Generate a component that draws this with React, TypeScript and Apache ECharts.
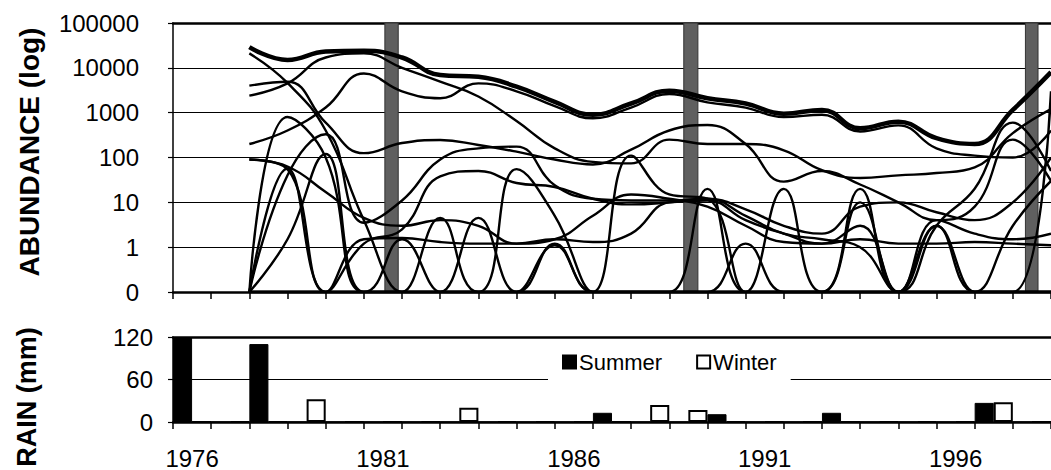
import React, { useEffect, useRef } from "react";
import * as echarts from "echarts";

// ---------- data ----------
const years = [1978, 1979, 1980, 1981, 1982, 1983, 1984, 1985, 1986, 1987, 1988, 1989, 1990, 1991, 1992, 1993, 1994, 1995, 1996, 1997, 1998, 1999];

// abundance series (0 = absent, drawn on the "0" line of the log axis)
const dominant = [29000, 15000, 23000, 24000, 17000, 6900, 6300, 3800, 1750, 900, 1600, 3100, 2100, 1600, 950, 1150, 450, 630, 270, 200, 1150, 8000];
const sp2 = [21000, 4600, 400, 4, 0, 4.5, 0, 0, 0, 0, 0, 0, 0, 0, 0, 0, 0, 0, 0, 0, 0, 0];
const sp3 = [4000, 4900, 600, 125, 210, 245, 190, 135, 90, 70, 150, 400, 530, 200, 29, 50, 25, 10, 4, 8, 250, 30];
const sp4 = [2400, 4500, 17000, 21000, 10000, 4900, 2300, 650, 160, 80, 74, 250, 200, 200, 145, 52, 35, 40, 45, 60, 350, 1200];
const sp5 = [200, 400, 1300, 7500, 3000, 2100, 4500, 3000, 1400, 750, 1300, 2600, 1700, 1300, 800, 900, 380, 520, 160, 110, 100, 400];
const sp6 = [90, 63, 17, 4.5, 3, 4, 3, 1.2, 1.5, 1.3, 2, 10, 11, 4, 2, 1.2, 1.5, 1.2, 1.2, 1.3, 1.2, 1.1];
const sp7 = [90, 55, 0, 1.5, 1.6, 1.3, 1.2, 1.2, 1.5, 5, 15, 12, 8, 3, 1.3, 1.2, 3, 0, 4, 2, 1.5, 2];
const sp8 = [0, 800, 100, 0, 0, 0, 0, 0, 1.2, 0, 0, 0, 0, 0, 0, 0, 0, 0, 0, 0, 0, 0];
const sp9 = [0, 57, 0, 1.2, 2.5, 38, 50, 27, 22, 12, 9, 10, 12, 5, 2, 1.5, 1, 0, 3, 0, 3, 30];
const sp10 = [0, 1.5, 120, 0, 0, 0, 0, 0, 0, 0, 0, 0, 0, 0, 0, 0, 0, 0, 0, 0, 0, 0];
const sp11 = [0, 40, 330, 3.5, 11, 90, 160, 175, 24, 12, 11, 11, 12, 7, 3, 2, 8, 10, 6, 4, 10, 100];
const sp12 = [0, 0, 0, 0, 0, 0, 0, 55, 5, 0, 110, 15, 12, 0, 20, 0, 0, 0, 0, 0, 0, 0];
const sp13 = [0, 0, 0, 0, 1.5, 0, 4.5, 0, 1.1, 0, 0, 0, 20, 0, 0, 0, 20, 0, 0, 0, 0, 0];
const sp14 = [0, 0, 0, 0, 0, 0, 0, 0, 0, 0, 0, 0, 0, 1.2, 0, 0, 10, 0, 3, 0, 0, 3000];
const sp15 = [0, 0, 0, 0, 0, 0, 0, 0, 0, 0, 0, 0, 0, 0, 0, 0, 0, 0, 3, 20, 600, 50];

const thinSeries = [sp2, sp3, sp4, sp5, sp6, sp7, sp8, sp9, sp10, sp11, sp12, sp13, sp14, sp15];

// drought periods (hatched bars)
const droughtStart = [1981.55, 1989.38, 1998.33];
const droughtEnd = [1981.9, 1989.75, 1998.66];

// rain panel
const rainYears = ["1976", "1977", "1978", "1979", "1980", "1981", "1982", "1983", "1984", "1985", "1986", "1987", "1988", "1989", "1990", "1991", "1992", "1993", "1994", "1995", "1996", "1997", "1998"];
const summerRain = [120, 0, 110, 0, 0, 0, 0, 0, 0, 0, 0, 13, 0, 0, 11, 0, 0, 13, 0, 0, 0, 27, 0];
const winterRain = [0, 0, 0, 32, 0, 0, 0, 20, 0, 0, 0, 0, 24, 17, 0, 0, 0, 0, 0, 0, 0, 28, 0];

const abundanceTicks = [0.1, 1, 10, 100, 1000, 10000, 100000];

const FONT = "Liberation Sans, Arial, Helvetica, sans-serif";

function toLog(arr: number[]) {
  return arr.map((v, i) => [years[i], v <= 0 ? abundanceTicks[0] : v]);
}

export default function App() {
  const ref = useRef<HTMLDivElement>(null);

  useEffect(() => {
    document.body.style.margin = "0";
    if (!ref.current) return;
    const chart = echarts.init(ref.current, null, { renderer: "svg" });

    const gridLeft = 173;
    const gridWidth = 884;

    const lineSeries: any[] = thinSeries.map((s, k) => ({
      name: "sp" + (k + 2),
      type: "line",
      xAxisIndex: 0,
      yAxisIndex: 0,
      data: toLog(s),
      smooth: 0.45,
      showSymbol: false,
      symbol: "none",
      lineStyle: { color: "#000", width: 2.4 },
      z: 3,
      silent: true,
    }));

    lineSeries.push({
      name: "dominant",
      type: "line",
      xAxisIndex: 0,
      yAxisIndex: 0,
      data: toLog(dominant),
      smooth: 0.45,
      showSymbol: false,
      symbol: "none",
      lineStyle: { color: "#000", width: 4.5 },
      z: 4,
      silent: true,
    });

    lineSeries.push({
      name: "drought",
      type: "line",
      xAxisIndex: 0,
      yAxisIndex: 0,
      data: [],
      showSymbol: false,
      symbol: "none",
      z: 6,
      silent: true,
      markArea: {
        silent: true,
        itemStyle: { color: "#5f5f5f", borderColor: "#333", borderWidth: 1 },
        data: droughtStart.map((s, i) => [{ xAxis: s }, { xAxis: droughtEnd[i] }]),
      },
    });

    const option: any = {
      animation: false,
      textStyle: { fontFamily: FONT, color: "#000" },
      grid: [
        { left: gridLeft, top: 23, width: gridWidth, height: 269 },
        { left: gridLeft, top: 337, width: gridWidth, height: 86 },
      ],
      legend: {
        data: ["Summer", "Winter"],
        left: 548,
        top: 343,
        backgroundColor: "#fff",
        padding: [8, 14, 12, 14],
        itemWidth: 13,
        itemHeight: 13,
        itemGap: 34,
        icon: "rect",
        textStyle: { fontSize: 22, color: "#000", fontFamily: FONT, padding: [0, 0, 0, -2] },
      },
      xAxis: [
        {
          type: "value",
          gridIndex: 0,
          min: 1976,
          max: 1999,
          interval: 1,
          axisLine: { show: true, lineStyle: { color: "#000", width: 2.5 } },
          axisTick: { show: true, length: 7, lineStyle: { color: "#000", width: 1.5 } },
          axisLabel: { show: false },
          splitLine: { show: false },
        },
        {
          type: "value",
          gridIndex: 0,
          position: "top",
          min: 1976,
          max: 1999,
          axisLine: { show: true, lineStyle: { color: "#000", width: 2.5 } },
          axisTick: { show: false },
          axisLabel: { show: false },
          splitLine: { show: false },
        },
        {
          type: "category",
          gridIndex: 1,
          data: rainYears,
          axisLine: { show: true, lineStyle: { color: "#000", width: 2.5 } },
          axisTick: { show: true, interval: 0, length: 7, lineStyle: { color: "#000", width: 1.5 } },
          axisLabel: { interval: 4, fontSize: 24, margin: 24, color: "#000", fontFamily: FONT },
          splitLine: { show: false },
        },
        {
          type: "value",
          gridIndex: 1,
          position: "top",
          min: 0,
          max: 1,
          axisLine: { show: true, lineStyle: { color: "#000", width: 2.5 } },
          axisTick: { show: false },
          axisLabel: { show: false },
          splitLine: { show: false },
        },
      ],
      yAxis: [
        {
          type: "log",
          logBase: 10,
          gridIndex: 0,
          min: abundanceTicks[0],
          max: abundanceTicks[abundanceTicks.length - 1],
          splitNumber: 6,
          axisLine: { show: true, lineStyle: { color: "#000", width: 1.5 } },
          axisTick: { show: true, length: 5, lineStyle: { color: "#000", width: 1.2 } },
          axisLabel: {
            fontSize: 24,
            margin: 34,
            color: "#000",
            fontFamily: FONT,
            formatter: (v: number) => (v < 1 ? "0" : String(Math.round(v))),
          },
          splitLine: { show: true, lineStyle: { color: "#000", width: 1.2 } },
        },
        {
          type: "value",
          gridIndex: 1,
          min: 0,
          max: 120,
          interval: 60,
          axisLine: { show: true, lineStyle: { color: "#000", width: 1.5 } },
          axisTick: { show: true, length: 5, lineStyle: { color: "#000", width: 1.2 } },
          axisLabel: { fontSize: 24, margin: 20, color: "#000", fontFamily: FONT },
          splitLine: { show: true, lineStyle: { color: "#000", width: 1.2 } },
        },
      ],
      graphic: [
        {
          type: "text",
          x: 29,
          y: 152,
          rotation: Math.PI / 2,
          style: {
            text: "ABUNDANCE (log)",
            fontSize: 28,
            fontWeight: "bold",
            fontFamily: FONT,
            fill: "#000",
            align: "center",
            verticalAlign: "middle",
          },
        },
        {
          type: "text",
          x: 27,
          y: 397,
          rotation: Math.PI / 2,
          style: {
            text: "RAIN (mm)",
            fontSize: 27,
            fontWeight: "bold",
            fontFamily: FONT,
            fill: "#000",
            align: "center",
            verticalAlign: "middle",
          },
        },
      ],
      series: [
        ...lineSeries,
        {
          name: "Summer",
          type: "bar",
          xAxisIndex: 2,
          yAxisIndex: 1,
          data: summerRain,
          barGap: "0%",
          barCategoryGap: "0%",
          itemStyle: { color: "#000", borderColor: "#000", borderWidth: 1 },
          silent: true,
        },
        {
          name: "Winter",
          type: "bar",
          xAxisIndex: 2,
          yAxisIndex: 1,
          data: winterRain,
          barGap: "0%",
          barCategoryGap: "0%",
          itemStyle: { color: "#fff", borderColor: "#000", borderWidth: 2 },
          silent: true,
        },
      ],
    };

    chart.setOption(option);
    return () => chart.dispose();
  }, []);

  return <div ref={ref} style={{ width: 1051, height: 470, overflow: "hidden" }} />;
}
